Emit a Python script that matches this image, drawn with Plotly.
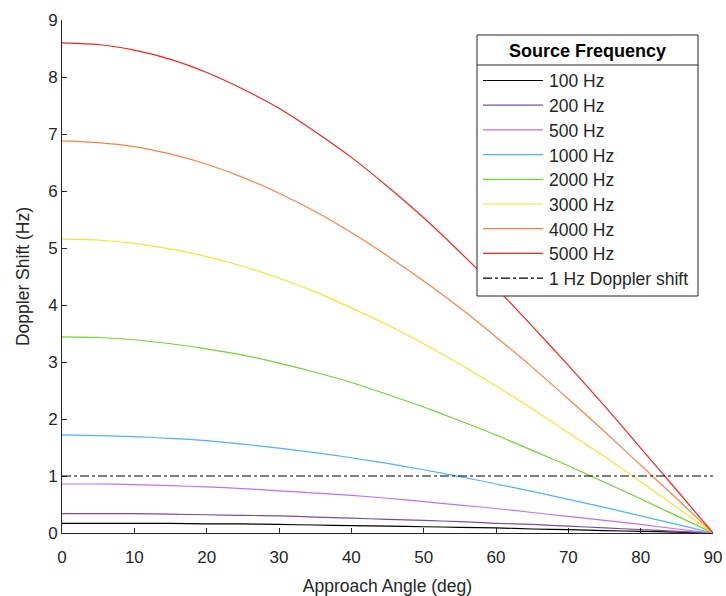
import plotly.graph_objects as go

angles = [0, 5, 10, 15, 20, 25, 30, 35, 40, 45, 50, 55, 60, 65, 70, 75, 80, 85, 90]

labels = ["100 Hz", "200 Hz", "500 Hz", "1000 Hz", "2000 Hz", "3000 Hz", "4000 Hz", "5000 Hz"]
colors = ["#000000", "#7B4BA8", "#BF6FFF", "#4DB3FF", "#72D435", "#EAEA30", "#FF8045", "#FF2020"]

shift_100 = [0.17, 0.17, 0.17, 0.17, 0.16, 0.16, 0.15, 0.14, 0.13, 0.12, 0.11, 0.10, 0.09, 0.07, 0.06, 0.04, 0.03, 0.015, 0]
shift_200 = [0.34, 0.34, 0.34, 0.33, 0.32, 0.31, 0.30, 0.28, 0.26, 0.24, 0.22, 0.20, 0.17, 0.15, 0.12, 0.09, 0.06, 0.03, 0]
shift_500 = [0.86, 0.86, 0.85, 0.83, 0.81, 0.78, 0.74, 0.70, 0.66, 0.61, 0.55, 0.49, 0.43, 0.36, 0.29, 0.22, 0.15, 0.07, 0]
shift_1000 = [1.72, 1.71, 1.69, 1.66, 1.62, 1.56, 1.49, 1.41, 1.32, 1.22, 1.11, 0.99, 0.86, 0.73, 0.59, 0.45, 0.30, 0.15, 0]
shift_2000 = [3.44, 3.43, 3.39, 3.32, 3.23, 3.12, 2.98, 2.82, 2.64, 2.43, 2.21, 1.97, 1.72, 1.45, 1.18, 0.89, 0.60, 0.30, 0]
shift_3000 = [5.16, 5.14, 5.08, 4.98, 4.85, 4.68, 4.47, 4.23, 3.95, 3.65, 3.32, 2.96, 2.58, 2.18, 1.76, 1.34, 0.90, 0.45, 0]
shift_4000 = [6.88, 6.85, 6.78, 6.65, 6.47, 6.24, 5.96, 5.64, 5.27, 4.86, 4.42, 3.95, 3.44, 2.91, 2.35, 1.78, 1.19, 0.60, 0]
shift_5000 = [8.60, 8.57, 8.47, 8.31, 8.08, 7.79, 7.45, 7.04, 6.59, 6.08, 5.53, 4.93, 4.30, 3.63, 2.94, 2.23, 1.49, 0.75, 0]

series = [shift_100, shift_200, shift_500, shift_1000, shift_2000, shift_3000, shift_4000, shift_5000]

threshold_x = [0, 90]
threshold_y = [1, 1]
threshold_label = "1 Hz Doppler shift"
legend_title = "Source Frequency"

x_ticks = [0, 10, 20, 30, 40, 50, 60, 70, 80, 90]
y_ticks = [0, 1, 2, 3, 4, 5, 6, 7, 8, 9]

axis_color = "#262626"
font_family = "Liberation Sans, Arial, sans-serif"

W, H = 726, 596
ML, MR, MT, MB = 62, 13, 20, 63
PW, PH = W - ML - MR, H - MT - MB


def px(xp):
    return (xp - ML) / PW


def py(yp):
    return (H - MB - yp) / PH


fig = go.Figure()
for name, col, ys in zip(labels, colors, series):
    fig.add_trace(go.Scatter(x=angles, y=ys, mode="lines", name=name, showlegend=False,
                             line=dict(color=col, width=1.2, shape="spline", smoothing=0.6)))
fig.add_trace(go.Scatter(x=threshold_x, y=threshold_y, mode="lines", name=threshold_label,
                         showlegend=False,
                         line=dict(color="#000000", width=1.2, dash="dashdot")))

# manual legend (MATLAB style with title box)
shapes = []
annotations = []
box_l, box_r, box_t, box_b, sep = 477, 698, 35, 296, 65
shapes.append(dict(type="rect", xref="paper", yref="paper", x0=px(box_l), x1=px(box_r),
                   y0=py(box_b), y1=py(box_t), fillcolor="white",
                   line=dict(color=axis_color, width=1), layer="above"))
shapes.append(dict(type="line", xref="paper", yref="paper", x0=px(box_l), x1=px(box_r),
                   y0=py(sep), y1=py(sep), line=dict(color=axis_color, width=1), layer="above"))
annotations.append(dict(xref="paper", yref="paper", x=px((box_l + box_r) / 2), y=py(51.5),
                        text="<b>" + legend_title + "</b>", showarrow=False,
                        xanchor="center", yanchor="middle",
                        font=dict(size=18, color="#000000")))
entry_names = labels + [threshold_label]
entry_colors = colors + ["#000000"]
entry_dash = ["solid"] * len(labels) + ["dashdot"]
y0 = 80.5
step = 24.7
for i, (nm, col, dsh) in enumerate(zip(entry_names, entry_colors, entry_dash)):
    yy = y0 + i * step
    shapes.append(dict(type="line", xref="paper", yref="paper", x0=px(483), x1=px(543),
                       y0=py(yy), y1=py(yy), line=dict(color=col, width=1.2, dash=dsh),
                       layer="above"))
    annotations.append(dict(xref="paper", yref="paper", x=px(547), y=py(yy + 1), text=nm,
                            showarrow=False, xanchor="left", yanchor="middle",
                            font=dict(size=17.5, color=axis_color)))

fig.update_layout(
    width=W, height=H,
    margin=dict(l=ML, r=MR, t=MT, b=MB),
    paper_bgcolor="white", plot_bgcolor="white",
    font=dict(family=font_family, size=17, color=axis_color),
    showlegend=False,
    shapes=shapes,
    annotations=annotations,
)
fig.update_xaxes(
    range=[0, 90], tickvals=x_ticks, ticks="inside", ticklen=5, tickcolor=axis_color,
    showline=True, linecolor=axis_color, linewidth=1, showgrid=False, zeroline=False,
    title=dict(text="Approach Angle (deg)", font=dict(size=17.5), standoff=14),
    tickfont=dict(size=17), automargin=False, ticklabelstandoff=9,
)
fig.update_yaxes(
    range=[0, 9], tickvals=y_ticks, ticks="inside", ticklen=5, tickcolor=axis_color,
    showline=True, linecolor=axis_color, linewidth=1, showgrid=False, zeroline=False,
    title=dict(text="Doppler Shift (Hz)", font=dict(size=17.5), standoff=14),
    tickfont=dict(size=17), automargin=False,
)

fig.write_html("out.html")
